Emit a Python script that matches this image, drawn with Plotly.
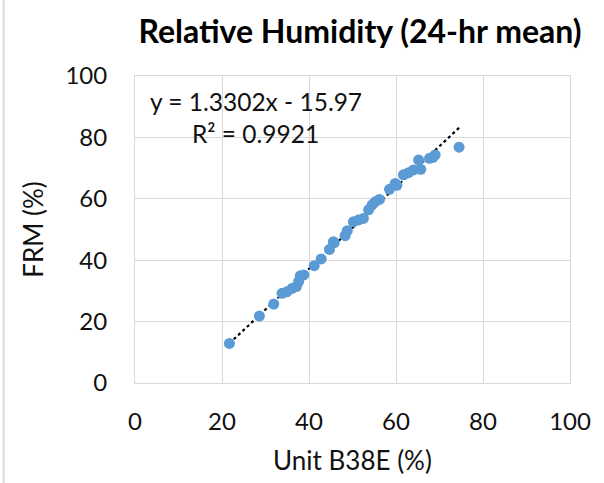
import plotly.graph_objects as go

# Data (Unit B38E %, FRM %)
unit_b38e = [21.7, 28.6, 31.9, 33.8, 34.9, 36.1, 37.1, 37.6, 38.0, 38.8,
             41.2, 42.8, 44.7, 45.8, 45.6, 48.3, 48.8, 50.2, 51.4, 52.5,
             53.7, 54.5, 55.2, 56.2, 58.5, 59.8, 60.2, 61.7, 62.9, 64.0,
             65.2, 65.7, 67.7, 68.5, 69.0, 74.5]
frm = [12.9, 21.8, 25.7, 29.2, 29.7, 30.8, 31.4, 33.0, 34.9, 35.2,
       38.2, 40.4, 43.5, 45.7, 46.0, 48.0, 49.6, 52.5, 53.1, 53.6,
       56.4, 58.0, 59.0, 59.8, 63.1, 65.0, 64.4, 67.8, 68.5, 69.4,
       72.6, 69.6, 73.2, 73.5, 74.3, 76.8]

slope = 1.3302
intercept = -15.97
r2 = 0.9921
tick_vals = [0, 20, 40, 60, 80, 100]

FONT = "Lato"
xmin, xmax = min(unit_b38e), max(unit_b38e)

fig = go.Figure()
fig.add_trace(go.Scatter(
    x=[xmin, xmax], y=[slope * xmin + intercept, slope * xmax + intercept],
    mode="lines", line=dict(color="black", width=2.2, dash="dot"),
    hoverinfo="skip", showlegend=False))
fig.add_trace(go.Scatter(
    x=unit_b38e, y=frm, mode="markers",
    marker=dict(color="#5B9BD5", size=11, line=dict(width=0)),
    showlegend=False))

axis_common = dict(
    range=[0, 100], tickvals=tick_vals, showgrid=True, gridcolor="#D9D9D9",
    gridwidth=1, zeroline=False, showline=True, linecolor="#D9D9D9",
    linewidth=1, mirror=True, ticks="",
    tickfont=dict(family=FONT, size=24, color="#111111"))

fig.update_layout(
    width=604, height=483,
    margin=dict(l=134.5, r=34, t=76, b=100),
    paper_bgcolor="white", plot_bgcolor="white",
    title=dict(text="<b>Relative Humidity (24-hr mean)</b>",
               font=dict(family=FONT, size=32, color="black"),
               x=360 / 604, xanchor="center", y=1 - 32 / 483, yanchor="middle"),
    xaxis=dict(**axis_common, ticklabelstandoff=17,
               title=dict(text="Unit B38E (%)", standoff=18,
                          font=dict(family=FONT, size=26, color="#111111"))),
    yaxis=dict(**axis_common, ticklabelstandoff=22,
               title=dict(text="FRM (%)", standoff=14,
                          font=dict(family=FONT, size=26, color="#111111"))),
    annotations=[
        dict(text=f"y = {slope}x - {abs(intercept)}", xref="paper", yref="paper",
             x=(148 - 134.5) / 435.5, y=(383 - 101) / 307, xanchor="left",
             yanchor="middle", showarrow=False,
             font=dict(family=FONT, size=24.5, color="#111111")),
        dict(text=f"R² = {r2}", xref="paper", yref="paper",
             x=(190 - 134.5) / 435.5, y=(383 - 133) / 307, xanchor="left",
             yanchor="middle", showarrow=False,
             font=dict(family=FONT, size=24.5, color="#111111")),
    ],
    shapes=[dict(type="line", xref="paper", yref="paper",
                 x0=(3 - 134.5) / 435.5, x1=(3 - 134.5) / 435.5,
                 y0=(383 - 483) / 307, y1=383 / 307,
                 line=dict(color="#D9D9D9", width=2))],
)

fig.write_html("out.html")
